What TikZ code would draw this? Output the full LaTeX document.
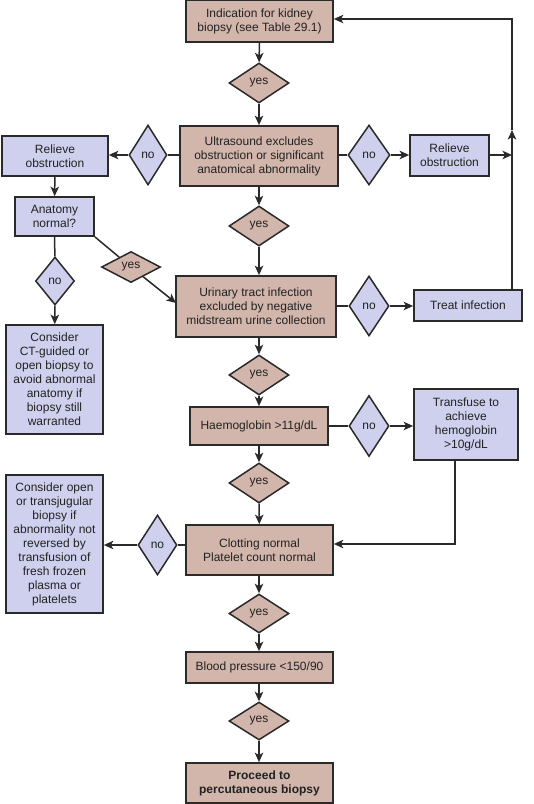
\documentclass[tikz,border=0pt]{standalone}
\usepackage{fontspec}
\setmainfont{Liberation Sans}
\usetikzlibrary{shapes.geometric,arrows.meta}
\definecolor{brn}{HTML}{D2B5AB}
\definecolor{blu}{HTML}{CFD0EE}
\definecolor{lc}{HTML}{2A2A2A}
\definecolor{txt}{HTML}{222222}
\tikzset{
  box/.style={draw=lc, line width=1.7pt, align=center, inner sep=0pt, text=txt,
    font=\fontsize{12}{14}\selectfont},
  brbox/.style={box, fill=brn},
  blbox/.style={box, fill=blu},
  dia/.style={diamond, draw=lc, line width=1.5pt, inner sep=0pt, text=txt,
    font=\fontsize{12}{14}\selectfont},
  brdia/.style={dia, fill=brn},
  bldia/.style={dia, fill=blu},
  ln/.style={draw=lc, line width=1.5pt},
  arr/.style={ln, -{Stealth[length=9.5pt,width=8.5pt,inset=2.5pt]}},
}
\begin{document}
\begin{tikzpicture}[x=1pt,y=-1pt]
\useasboundingbox (0,0) rectangle (534,804);
% main column
\node[brbox, minimum width=147pt, minimum height=42pt] (ind) at (259.5,21) {Indication for kidney\\biopsy (see Table 29.1)};
\node[brdia, minimum width=60pt, minimum height=40pt] (y1) at (259,83) {yes};
\node[brbox, minimum width=158pt, minimum height=60pt] (us) at (259,156) {Ultrasound excludes\\obstruction or significant\\anatomical abnormality};
\node[bldia, minimum width=38pt, minimum height=60pt] (nL1) at (148,155) {no};
\node[blbox, minimum width=106pt, minimum height=40pt] (rL) at (55,156) {Relieve\\obstruction};
\node[bldia, minimum width=42pt, minimum height=60pt] (nR1) at (369,155) {no};
\node[blbox, minimum width=79pt, minimum height=41pt] (rR) at (449.5,155.5) {Relieve\\obstruction};
\node[blbox, minimum width=79pt, minimum height=39pt] (anat) at (54.5,216.5) {Anatomy\\normal?};
\node[bldia, minimum width=39pt, minimum height=48pt] (nL2) at (55,281) {no};
\node[blbox, minimum width=97pt, minimum height=109pt] (ct) at (54.5,379.5) {Consider\\CT-guided or\\open biopsy to\\avoid abnormal\\anatomy if\\biopsy still\\warranted};
\node[brdia, minimum width=59pt, minimum height=31pt] (yA) at (131,267) {yes};
\node[brdia, minimum width=60pt, minimum height=40pt] (y2) at (259,226) {yes};
\node[brbox, minimum width=160pt, minimum height=61pt] (uti) at (256,306.5) {Urinary tract infection\\excluded by negative\\midstream urine collection};
\node[bldia, minimum width=40pt, minimum height=60pt] (nR2) at (369,306) {no};
\node[blbox, minimum width=108pt, minimum height=31pt] (treat) at (468,305.5) {Treat infection};
\node[brdia, minimum width=60pt, minimum height=40pt] (y3) at (259,375) {yes};
\node[brbox, minimum width=138pt, minimum height=38pt] (hb) at (259,426) {Haemoglobin >11g/dL};
\node[bldia, minimum width=40pt, minimum height=61pt] (nR3) at (369,426) {no};
\node[blbox, minimum width=104pt, minimum height=71pt] (tf) at (466,424.5) {Transfuse to\\achieve\\hemoglobin\\>10g/dL};
\node[brdia, minimum width=60pt, minimum height=40pt] (y4) at (259,483) {yes};
\node[brbox, minimum width=147pt, minimum height=50pt] (clot) at (259.5,550) {Clotting normal\\Platelet count normal};
\node[bldia, minimum width=39pt, minimum height=60pt] (nL3) at (157.5,545) {no};
\node[blbox, minimum width=97pt, minimum height=138pt] (co) at (54.5,544) {Consider open\\or transjugular\\biopsy if\\abnormality not\\reversed by\\transfusion of\\fresh frozen\\plasma or\\platelets};
\node[brdia, minimum width=60pt, minimum height=39pt] (y5) at (259,613.5) {yes};
\node[brbox, minimum width=147pt, minimum height=31pt] (bp) at (259.5,667.5) {Blood pressure <150/90};
\node[brdia, minimum width=60pt, minimum height=38pt] (y6) at (259,721) {yes};
\node[brbox, minimum width=147pt, minimum height=40pt, font=\fontsize{12}{14}\selectfont\bfseries] (proc) at (259.5,783) {Proceed to\\percutaneous biopsy};
% helper coordinates
\coordinate (rbus) at (512,155);
\coordinate (rbmid) at (512,130);
\coordinate (rbtop) at (512,19);
\coordinate (utiin) at (176,303);
\coordinate (tfdown) at (455,544);
% connectors
\draw[arr] (ind) -- (y1);
\draw[arr] (y1) -- (us);
\draw[ln] (us.west |- nL1) -- (nL1);
\draw[arr] (nL1) -- (rL.east |- nL1);
\draw[ln] (us.east |- nR1) -- (nR1);
\draw[arr] (nR1) -- (rR.west |- nR1);
\draw[arr] (rR.east |- rbus) -- (rbus);
\draw[arr] (treat.north -| rbus) -- (rbmid);
\draw[arr] (rbmid) -- (rbtop) -- (ind.east |- rbtop);
\draw[arr] (rL) -- (anat);
\draw[ln] (anat) -- (nL2);
\draw[arr] (nL2) -- (ct);
\draw[ln] (anat.south east) -- (yA);
\draw[arr] (yA) -- (utiin);
\draw[arr] (us) -- (y2);
\draw[arr] (y2) -- (y2 |- uti.north);
\draw[ln] (uti.east |- nR2) -- (nR2);
\draw[arr] (nR2) -- (treat.west |- nR2);
\draw[arr] (uti.south -| y3) -- (y3);
\draw[arr] (y3) -- (hb);
\draw[ln] (hb.east |- nR3) -- (nR3);
\draw[arr] (nR3) -- (tf.west |- nR3);
\draw[arr] (tf.south -| tfdown) -- (tfdown) -- (clot.east |- tfdown);
\draw[arr] (hb) -- (y4);
\draw[arr] (y4) -- (clot);
\draw[ln] (clot.west |- nL3) -- (nL3);
\draw[arr] (nL3) -- (co.east |- nL3);
\draw[arr] (clot.south -| y5) -- (y5);
\draw[arr] (y5) -- (bp.north -| y5);
\draw[arr] (bp.south -| y6) -- (y6);
\draw[arr] (y6) -- (proc.north -| y6);
\end{tikzpicture}
\end{document}
